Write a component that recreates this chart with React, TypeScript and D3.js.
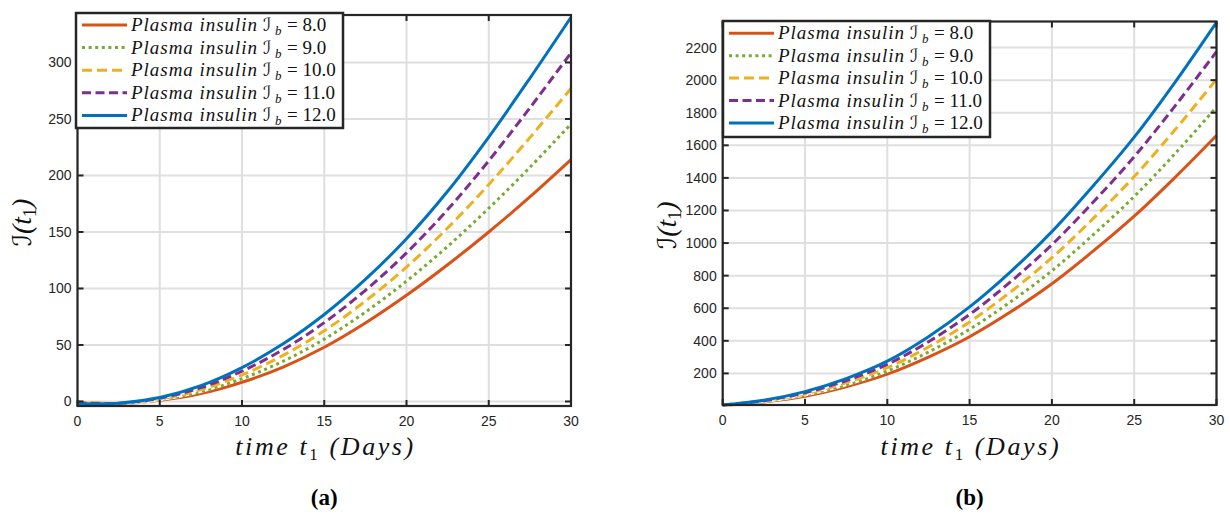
import React from 'react';
import * as d3 from 'd3';

const T = [0, 2.5, 5, 7.5, 10, 12.5, 15, 17.5, 20, 22.5, 25, 27.5, 30];
const LEGEND_VALUES = ['8.0', '9.0', '10.0', '11.0', '12.0'];
const X_TICKS = [0, 5, 10, 15, 20, 25, 30];

// Panel (a)
const A_IB8 = [-0.5, -2, 1, 7, 17, 30.5, 48, 69.5, 94, 121, 150, 181, 214];
const A_IB9 = [-0.8, -1.9, 1.6, 8.8, 20.2, 35.6, 55.2, 79.1, 106.5, 137.2, 171, 207.2, 245.5];
const A_IB10 = [-1.1, -1.8, 2.2, 10.5, 23.5, 40.8, 62.5, 88.8, 119, 153.5, 192, 233.5, 277];
const A_IB11 = [-1.4, -1.6, 2.9, 12.2, 26.8, 45.9, 69.8, 98.4, 131.5, 169.8, 213, 259.8, 308.5];
const A_IB12 = [-1.7, -1.5, 3.5, 14, 30, 51, 77, 108, 144, 186, 234, 286, 340];
const A_Y_TICKS = [0, 50, 100, 150, 200, 250, 300];

// Panel (b)
const B_IB8 = [5, 25, 60, 118, 195, 300, 425, 578, 750, 950, 1165, 1405, 1660];
const B_IB9 = [5, 27, 67, 130, 215, 331, 471, 640, 830, 1050, 1286, 1551, 1835];
const B_IB10 = [5, 30, 74, 143, 235, 362, 516, 701, 910, 1150, 1408, 1698, 2005];
const B_IB11 = [6, 32, 81, 155, 255, 394, 562, 763, 990, 1250, 1530, 1844, 2175];
const B_IB12 = [6, 35, 88, 168, 275, 425, 608, 825, 1070, 1350, 1650, 1990, 2355];
const B_Y_TICKS = [200, 400, 600, 800, 1000, 1200, 1400, 1600, 1800, 2000, 2200];

const COLORS = ['#D95319', '#77AC30', '#EDB120', '#7E2F8E', '#0072BD'];
const DASHES = [null, '3,3.6', '10,5', '9,4.5', null];

const AX = '#262626';
const GRID = '#dfdfdf';
const SERIF = 'Liberation Serif, Times New Roman, Times, DejaVu Serif, serif';
const SCRIPT = 'DejaVu Serif, DejaVu Sans, serif';
const SANS = 'Liberation Sans, Arial, Helvetica, sans-serif';

type PanelCfg = {
  series: number[][];
  yDomain: [number, number];
  yTicks: number[];
  left: number; right: number; top: number; bottom: number;
  legend: { x: number; y: number; w: number; h: number; rowY0: number; rowDy: number };
  tag: string;
};

const Panel = ({ cfg }: { cfg: PanelCfg }) => {
  const x = d3.scaleLinear().domain([0, 30]).range([cfg.left, cfg.right]);
  const y = d3.scaleLinear().domain(cfg.yDomain).range([cfg.bottom, cfg.top]);
  const line = d3.line<number>().x((_, i) => x(T[i])).y(d => y(d)).curve(d3.curveCatmullRom.alpha(0.5));
  const cx = (cfg.left + cfg.right) / 2;
  const cy = (cfg.top + cfg.bottom) / 2;
  const tl = 6;
  const L = cfg.legend;
  return (
    <g>
      {X_TICKS.map(t => (
        <line key={'gx' + t} x1={x(t)} x2={x(t)} y1={cfg.top} y2={cfg.bottom} stroke={GRID} strokeWidth={2} />
      ))}
      {cfg.yTicks.map(t => (
        <line key={'gy' + t} x1={cfg.left} x2={cfg.right} y1={y(t)} y2={y(t)} stroke={GRID} strokeWidth={2} />
      ))}
      {cfg.series.map((s, i) => (
        <g key={'s' + i}>
          {DASHES[i] && <path d={line(s) || ''} fill="none" stroke="#fff" strokeWidth={3} />}
          <path d={line(s) || ''} fill="none" stroke={COLORS[i]} strokeWidth={3}
            strokeDasharray={DASHES[i] || undefined} />
        </g>
      ))}
      {X_TICKS.map(t => (
        <g key={'tx' + t}>
          <line x1={x(t)} x2={x(t)} y1={cfg.bottom} y2={cfg.bottom - tl} stroke={AX} strokeWidth={2} />
          <line x1={x(t)} x2={x(t)} y1={cfg.top} y2={cfg.top + tl} stroke={AX} strokeWidth={2} />
          <text x={x(t)} y={cfg.bottom + 20} textAnchor="middle" fontFamily={SANS} fontSize={14} fill={AX}>{t}</text>
        </g>
      ))}
      {cfg.yTicks.map(t => (
        <g key={'ty' + t}>
          <line x1={cfg.left} x2={cfg.left + tl} y1={y(t)} y2={y(t)} stroke={AX} strokeWidth={2} />
          <line x1={cfg.right} x2={cfg.right - tl} y1={y(t)} y2={y(t)} stroke={AX} strokeWidth={2} />
          <text x={cfg.left - 6} y={y(t) + 5} textAnchor="end" fontFamily={SANS} fontSize={14} fill={AX}>{t}</text>
        </g>
      ))}
      <rect x={cfg.left} y={cfg.top} width={cfg.right - cfg.left} height={cfg.bottom - cfg.top}
        fill="none" stroke={AX} strokeWidth={2.2} />
      <rect x={L.x} y={L.y} width={L.w} height={L.h} fill="#fff" stroke={AX} strokeWidth={2.5} />
      {LEGEND_VALUES.map((v, i) => {
        const ry = L.rowY0 + i * L.rowDy;
        const x0 = L.x + 6;
        return (
          <g key={'lg' + i}>
            <line x1={x0} x2={x0 + 45} y1={ry} y2={ry} stroke={COLORS[i]} strokeWidth={3}
              strokeDasharray={DASHES[i] || undefined} />
            <text x={x0 + 49} y={ry + 6} fontFamily={SERIF} fontStyle="italic" fontSize={19} fill="#111"
              textLength={126} lengthAdjust="spacing">Plasma insulin</text>
            <text x={x0 + 181} y={ry + 6} fontFamily={SCRIPT} fontStyle="italic" fontSize={18} fill="#111">ℐ</text>
            <text x={x0 + 193} y={ry + 10} fontFamily={SERIF} fontStyle="italic" fontSize={13} fill="#111">b</text>
            <text x={x0 + 205} y={ry + 6} fontFamily={SERIF} fontSize={19} fill="#111">= {v}</text>
          </g>
        );
      })}
      <text x={cx} y={455} textAnchor="middle" fontFamily={SERIF} fontStyle="italic" fontSize={26} fill="#111"
        textLength={178} lengthAdjust="spacing">
        <tspan>time t</tspan>
        <tspan fontSize={17} dy={5} fontStyle="normal">1</tspan>
        <tspan dy={-5}> (Days)</tspan>
      </text>
      <text transform={`translate(${cfg.left - 47},${cy + 12}) rotate(-90)`} textAnchor="middle"
        fontFamily={SERIF} fontStyle="italic" fontSize={28} fill="#111">
        <tspan fontFamily={SCRIPT} fontSize={26}>ℐ</tspan>
        <tspan>(t</tspan>
        <tspan fontSize={18} dy={5} fontStyle="normal">1</tspan>
        <tspan dy={-5}>)</tspan>
      </text>
      <text x={cx} y={505} textAnchor="middle" fontFamily={SERIF} fontWeight="bold" fontSize={23} fill="#000">{cfg.tag}</text>
    </g>
  );
};

const PANEL_A: PanelCfg = {
  series: [A_IB8, A_IB9, A_IB10, A_IB11, A_IB12],
  yDomain: [-4, 342],
  yTicks: A_Y_TICKS,
  left: 77.5, right: 571, top: 15, bottom: 406,
  legend: { x: 76, y: 13, w: 267, h: 115, rowY0: 25, rowDy: 22.6 },
  tag: '(a)',
};

const PANEL_B: PanelCfg = {
  series: [B_IB8, B_IB9, B_IB10, B_IB11, B_IB12],
  yDomain: [6, 2360],
  yTicks: B_Y_TICKS,
  left: 722.7, right: 1216.5, top: 21.5, bottom: 405,
  legend: { x: 723, y: 21, w: 267, h: 116, rowY0: 33.3, rowDy: 22.4 },
  tag: '(b)',
};

export default function App() {
  return (
    <svg width={1230} height={514} style={{ position: 'absolute', left: 0, top: 0, background: '#fff' }}>
      <rect width={1230} height={514} fill="#fff" />
      <Panel cfg={PANEL_A} />
      <Panel cfg={PANEL_B} />
    </svg>
  );
}
